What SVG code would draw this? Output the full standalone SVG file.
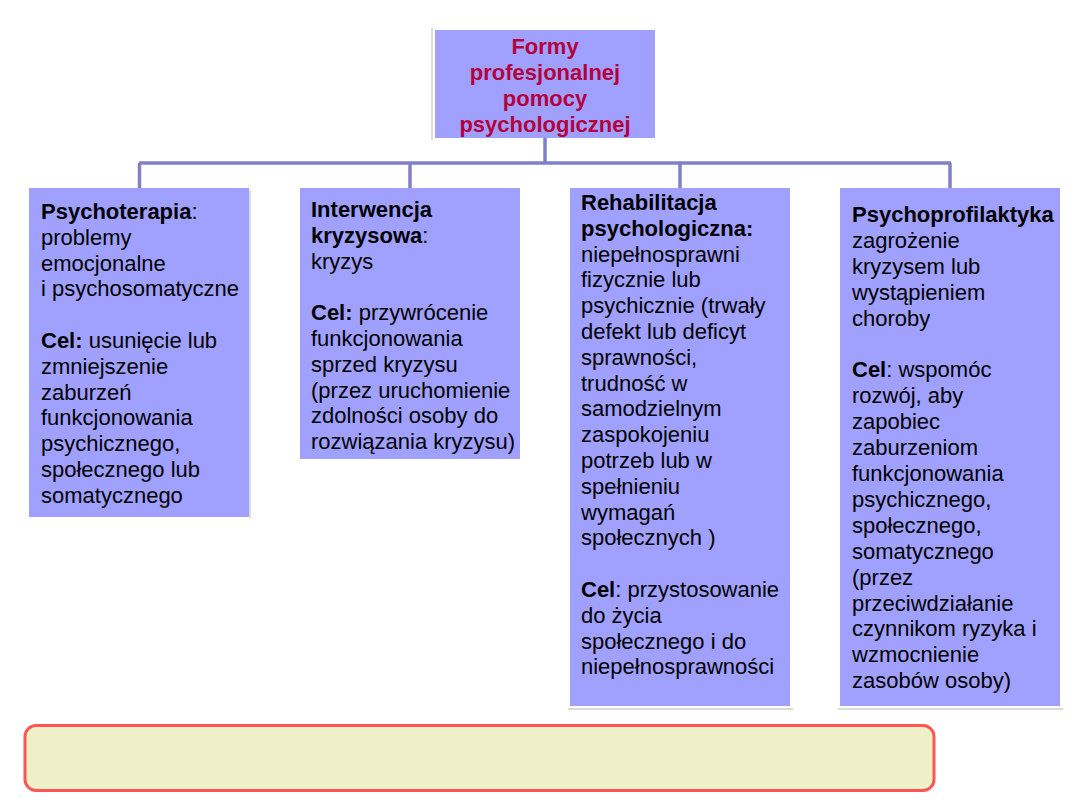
<svg xmlns="http://www.w3.org/2000/svg" width="1080" height="810" viewBox="0 0 1080 810">
<style>
.box{fill:#A0A0FF;}
.edge{stroke:#D0D0D0;stroke-width:1.5;fill:none;}
.conn{stroke:#8080C8;stroke-width:3.5;fill:none;}
.t{font-family:"Liberation Sans",Arial,sans-serif;font-size:22px;fill:#000;}
.b{font-weight:bold;}
.title{font-family:"Liberation Sans",Arial,sans-serif;font-size:22px;font-weight:bold;fill:#B4003C;text-anchor:middle;}
</style>
<rect width="1080" height="810" fill="#FFFFFF"/>
<g id="connectors">
<line class="conn" x1="545" y1="138" x2="545" y2="163"/>
<line class="conn" x1="139" y1="163" x2="951" y2="163"/>
<line class="conn" x1="139.5" y1="163" x2="139.5" y2="188"/>
<line class="conn" x1="410" y1="163" x2="410" y2="188"/>
<line class="conn" x1="680" y1="163" x2="680" y2="188"/>
<line class="conn" x1="950" y1="163" x2="950" y2="188"/>
</g>
<g id="root">
<line class="edge" x1="432" y1="28" x2="432" y2="140"/>
<rect class="box" x="435" y="30" width="220" height="108"/>
<text class="title"><tspan x="545" y="54">Formy</tspan><tspan x="545" y="80">profesjonalnej</tspan><tspan x="545" y="106">pomocy</tspan><tspan x="545" y="132">psychologicznej</tspan></text>
</g>
<g id="psychoterapia">
<line class="edge" x1="250" y1="190" x2="250" y2="518"/>
<rect class="box" x="29" y="188" width="220" height="329"/>
<text class="t">
<tspan x="41" y="219"><tspan class="b">Psychoterapia</tspan>:</tspan>
<tspan x="41" y="244.8">problemy</tspan>
<tspan x="41" y="270.6">emocjonalne</tspan>
<tspan x="41" y="296.4">i psychosomatyczne</tspan>
<tspan x="41" y="348"><tspan class="b">Cel:</tspan> usunięcie lub</tspan>
<tspan x="41" y="373.8">zmniejszenie</tspan>
<tspan x="41" y="399.6">zaburzeń</tspan>
<tspan x="41" y="425.4">funkcjonowania</tspan>
<tspan x="41" y="451.2">psychicznego,</tspan>
<tspan x="41" y="477">społecznego lub</tspan>
<tspan x="41" y="502.8">somatycznego</tspan>
</text>
</g>
<g id="interwencja">
<rect class="box" x="300" y="188" width="220" height="271"/>
<text class="t">
<tspan x="311" y="217" class="b">Interwencja</tspan>
<tspan x="311" y="242.8"><tspan class="b">kryzysowa</tspan>:</tspan>
<tspan x="311" y="268.6">kryzys</tspan>
<tspan x="311" y="320.2"><tspan class="b">Cel:</tspan> przywrócenie</tspan>
<tspan x="311" y="346">funkcjonowania</tspan>
<tspan x="311" y="371.8">sprzed kryzysu</tspan>
<tspan x="311" y="397.6">(przez uruchomienie</tspan>
<tspan x="311" y="423.4">zdolności osoby do</tspan>
<tspan x="311" y="449.2">rozwiązania kryzysu)</tspan>
</text>
</g>
<g id="rehabilitacja">
<line class="edge" x1="568" y1="709" x2="793" y2="709"/>
<rect class="box" x="570" y="188" width="220" height="518"/>
<text class="t">
<tspan x="581" y="210" class="b">Rehabilitacja</tspan>
<tspan x="581" y="235.8" class="b">psychologiczna:</tspan>
<tspan x="581" y="261.6">niepełnosprawni</tspan>
<tspan x="581" y="287.4">fizycznie lub</tspan>
<tspan x="581" y="313.2">psychicznie (trwały</tspan>
<tspan x="581" y="339">defekt lub deficyt</tspan>
<tspan x="581" y="364.8">sprawności,</tspan>
<tspan x="581" y="390.6">trudność w</tspan>
<tspan x="581" y="416.4">samodzielnym</tspan>
<tspan x="581" y="442.2">zaspokojeniu</tspan>
<tspan x="581" y="468">potrzeb lub w</tspan>
<tspan x="581" y="493.8">spełnieniu</tspan>
<tspan x="581" y="519.6">wymagań</tspan>
<tspan x="581" y="545.4">społecznych )</tspan>
<tspan x="581" y="597"><tspan class="b">Cel</tspan>: przystosowanie</tspan>
<tspan x="581" y="622.8">do życia</tspan>
<tspan x="581" y="648.6">społecznego i do</tspan>
<tspan x="581" y="674.4">niepełnosprawności</tspan>
</text>
</g>
<g id="psychoprofilaktyka">
<line class="edge" x1="838" y1="709" x2="1063" y2="709"/>
<rect class="box" x="840" y="188" width="220" height="518"/>
<text class="t">
<tspan x="852" y="222" class="b">Psychoprofilaktyka</tspan>
<tspan x="852" y="247.9">zagrożenie</tspan>
<tspan x="852" y="273.8">kryzysem lub</tspan>
<tspan x="852" y="299.7">wystąpieniem</tspan>
<tspan x="852" y="325.6">choroby</tspan>
<tspan x="852" y="377.4"><tspan class="b">Cel</tspan>: wspomóc</tspan>
<tspan x="852" y="403.3">rozwój, aby</tspan>
<tspan x="852" y="429.2">zapobiec</tspan>
<tspan x="852" y="455.1">zaburzeniom</tspan>
<tspan x="852" y="481">funkcjonowania</tspan>
<tspan x="852" y="506.9">psychicznego,</tspan>
<tspan x="852" y="532.8">społecznego,</tspan>
<tspan x="852" y="558.7">somatycznego</tspan>
<tspan x="852" y="584.6">(przez</tspan>
<tspan x="852" y="610.5">przeciwdziałanie</tspan>
<tspan x="852" y="636.4">czynnikom ryzyka i</tspan>
<tspan x="852" y="662.3">wzmocnienie</tspan>
<tspan x="852" y="688.2">zasobów osoby)</tspan>
</text>
</g>
<g id="note">
<rect x="25" y="725.5" width="909" height="65" rx="11" ry="11" fill="#F0F0C8" stroke="#FF5555" stroke-width="3"/>
</g>
</svg>
